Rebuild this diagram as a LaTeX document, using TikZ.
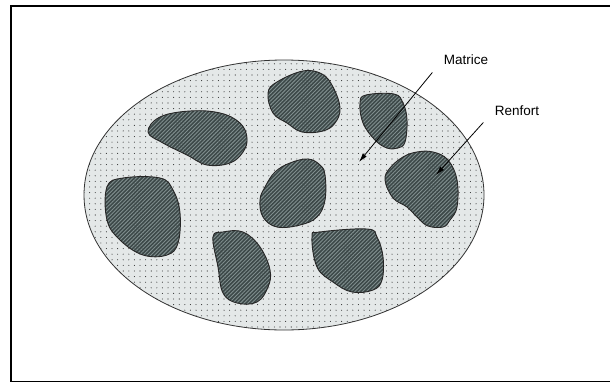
\documentclass[tikz,border=0pt]{standalone}
\usepackage{fontspec}
\setmainfont{Liberation Sans}
\usetikzlibrary{arrows.meta,patterns.meta}
\definecolor{matrixfill}{HTML}{E4E8E8}
\definecolor{blobdark}{HTML}{3C4848}
\definecolor{blobstripe}{HTML}{808E8E}
\begin{document}
\begin{tikzpicture}[x=1pt,y=-1pt,every node/.style={font=\fontsize{13.5}{15}\selectfont},
  blob/.style={draw=black!85,line width=.9pt,preaction={fill=blobdark},
    pattern={Lines[angle=45,distance=2.7pt,line width=.9pt]},pattern color=blobstripe},
  pointer/.style={line width=.8pt,-{Latex[length=9pt,width=5pt]}}]
\useasboundingbox (0,0) rectangle (610,383);
% frame
\draw[line width=1.6pt,line join=miter] (612,6)--(11,6)--(11,381.5)--(612,381.5);
% matrix
\draw[draw=black!80,line width=.8pt,preaction={fill=matrixfill},
  pattern={Dots[distance=5.6pt,radius=.55pt]},pattern color=black!80]
  (284,195) ellipse [x radius=200pt,y radius=135pt];
% reinforcement particles
\draw[blob] plot[smooth cycle,tension=.65] coordinates {(148,132) (160,117) (190,111) (220,113) (240,123) (247,138) (243,152) (230,163) (207,165) (187,155) (163,143)};
\draw[blob] plot[smooth cycle,tension=.65] coordinates {(107,187) (123,178) (160,178) (173,190) (180,213) (178,243) (167,255) (143,255) (120,240) (107,220)};
\draw[blob] plot[smooth cycle,tension=.65] coordinates {(213,237) (223,232) (243,232) (260,247) (270,270) (268,287) (257,302) (237,303) (223,293) (218,267)};
\draw[blob] plot[smooth cycle,tension=.65] coordinates {(268,93) (277,82) (303,71) (322,74) (333,87) (340,108) (335,123) (323,131) (302,132) (287,123) (273,113)};
\draw[blob] plot[smooth cycle,tension=.65] coordinates {(360,103) (366,95) (394,94) (403,103) (407,120) (405,142) (398,148) (387,148) (375,140) (363,123)};
\draw[blob] plot[smooth cycle,tension=.65] coordinates {(275,172) (290,163) (308,159) (320,165) (325,175) (325,200) (317,217) (300,225) (277,227) (263,217) (260,200) (265,187)};
\draw[blob] plot[smooth cycle,tension=.65] coordinates {(385,180) (390,168) (403,157) (417,152) (433,152) (448,160) (457,180) (457,207) (450,220) (443,227) (428,226) (418,218) (407,207) (393,198)};
\draw[blob] plot[smooth cycle,tension=.65] coordinates {(312,237) (320,232) (367,229) (377,237) (383,257) (382,280) (373,290) (352,292) (333,282) (317,267)};
% labels and arrows
\node (matrice) at (466,60) {Matrice};
\node (renfort) at (517,111) {Renfort};
\coordinate (mpt) at (359,162);
\coordinate (rpt) at (436,175);
\draw[pointer] ([xshift=-8pt,yshift=-4pt]matrice.south west)--(mpt);
\draw[pointer] ([xshift=-8pt,yshift=-3pt]renfort.south west)--(rpt);
\end{tikzpicture}
\end{document}
